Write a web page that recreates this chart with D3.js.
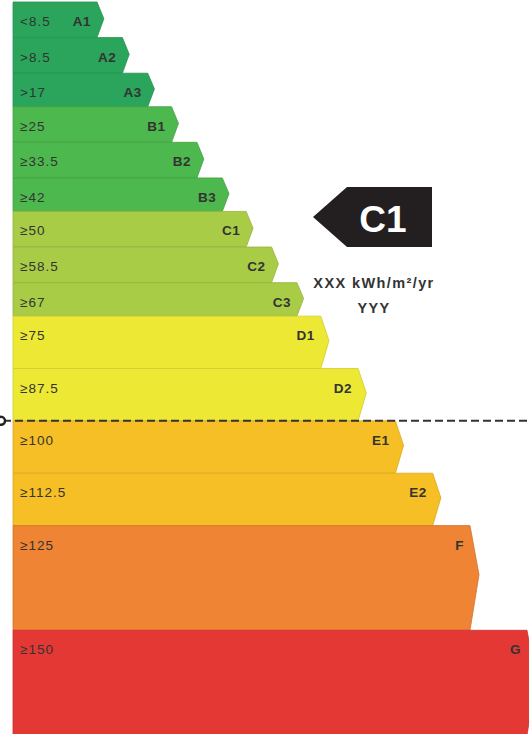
<!DOCTYPE html>
<html>
<head>
<meta charset="utf-8">
<script src="https://cdn.jsdelivr.net/npm/d3@7"></script>
<style>
	html, body { margin: 0; padding: 0; background: #fff; }
	svg { display: block; }
	text { font-family: "Liberation Sans", Arial, sans-serif; }
</style>
</head>
<body>
<svg id="chart" width="529" height="734"></svg>
<script>
// energy classes, top to bottom
const classes = ['A1', 'A2', 'A3', 'B1', 'B2', 'B3', 'C1', 'C2', 'C3', 'D1', 'D2', 'E1', 'E2', 'F', 'G'];
// lower bound of each class (kWh/m2/yr)
const thresholds = [0, 8.5, 17, 25, 33.5, 42, 50, 58.5, 67, 75, 87.5, 100, 112.5, 125, 150];
const lastUpper = 175;
const thresholdLabels = ['<8.5', '>8.5', '>17', '≥25', '≥33.5', '≥42', '≥50', '≥58.5', '≥67', '≥75', '≥87.5', '≥100', '≥112.5', '≥125', '≥150'];
const classColors = ['#2aa55b', '#2aa55b', '#2aa55b', '#4db84e', '#4db84e', '#4db84e',
	'#a9cc47', '#a9cc47', '#a9cc47', '#ece834', '#ece834', '#f5bf25', '#f5bf25', '#ee8434', '#e43835'];

const rating = 'C1';
const ratingLine1 = 'XXX kWh/m²/yr';
const ratingLine2 = 'YYY';
const limitValue = 100;

const svg = d3.select('svg#chart'),
	width = 529,
	height = 734,
	left = 13;

// vertical: band height follows the class range
const y = d3.scaleLinear().domain([0, lastUpper]).range([2, 735]);
// horizontal: bar length follows the lower bound (last class squeezed to fit)
const x = d3.scaleLinear().domain([0, 125, 150]).range([97, 470, 527]);

const rows = classes.map((c, i) => ({
	cls: c,
	lo: thresholds[i],
	hi: i < thresholds.length - 1 ? thresholds[i + 1] : lastUpper,
	label: thresholdLabels[i],
	color: classColors[i]
}));

// arrow shaped bar
function arrow(d) {
	const y0 = y(d.lo), y1 = y(d.hi), h = y1 - y0;
	const xe = x(d.lo);
	const depth = Math.min(9, 4 + h * 0.08);
	const tipY = y0 + h * 0.47;
	return `M ${left},${y0} L ${xe},${y0} L ${xe + depth},${tipY} L ${xe},${y1} L ${left},${y1} Z`;
}

const g = svg.append('g');

g.selectAll('path.band')
	.data(rows)
	.join('path')
	.attr('class', 'band')
	.attr('d', arrow)
	.attr('fill', d => d.color)
	.attr('stroke', d => d3.color(d.color).darker(0.35))
	.attr('stroke-width', 0.8)
	.attr('stroke-linejoin', 'round');

g.selectAll('text.lo')
	.data(rows)
	.join('text')
	.attr('class', 'lo')
	.attr('x', 20)
	.attr('y', d => y(d.lo) + 24)
	.attr('font-size', 13.5)
	.attr('letter-spacing', 1)
	.attr('fill', '#333')
	.text(d => d.label);

g.selectAll('text.cls')
	.data(rows)
	.join('text')
	.attr('class', 'cls')
	.attr('x', d => x(d.lo) - 6)
	.attr('y', d => y(d.lo) + 24)
	.attr('text-anchor', 'end')
	.attr('font-size', 13.5)
	.attr('font-weight', 'bold')
	.attr('letter-spacing', 0.5)
	.attr('fill', '#333')
	.text(d => d.cls);

// limit line
const ly = y(limitValue);
svg.append('line')
	.attr('x1', 3).attr('x2', width)
	.attr('y1', ly).attr('y2', ly)
	.attr('stroke', '#333')
	.attr('stroke-width', 2)
	.attr('stroke-dasharray', '8,4');
svg.append('circle')
	.attr('cx', 1).attr('cy', ly).attr('r', 4)
	.attr('fill', '#fff')
	.attr('stroke', '#222')
	.attr('stroke-width', 2.5);

// rating badge
const badge = svg.append('g');
badge.append('path')
	.attr('d', 'M 313,217 L 347,187 L 432,187 L 432,247 L 347,247 Z')
	.attr('fill', '#231f20');
badge.append('text')
	.attr('x', 383).attr('y', 232)
	.attr('text-anchor', 'middle')
	.attr('font-size', 37)
	.attr('font-weight', 'bold')
	.attr('fill', '#fff')
	.text(rating);
badge.append('text')
	.attr('x', 374).attr('y', 288)
	.attr('text-anchor', 'middle')
	.attr('font-size', 14.5)
	.attr('font-weight', 'bold')
	.attr('letter-spacing', 1.4)
	.attr('fill', '#333')
	.text(ratingLine1);
badge.append('text')
	.attr('x', 374).attr('y', 313)
	.attr('text-anchor', 'middle')
	.attr('font-size', 14.5)
	.attr('font-weight', 'bold')
	.attr('letter-spacing', 1.4)
	.attr('fill', '#333')
	.text(ratingLine2);
</script>
</body>
</html>
